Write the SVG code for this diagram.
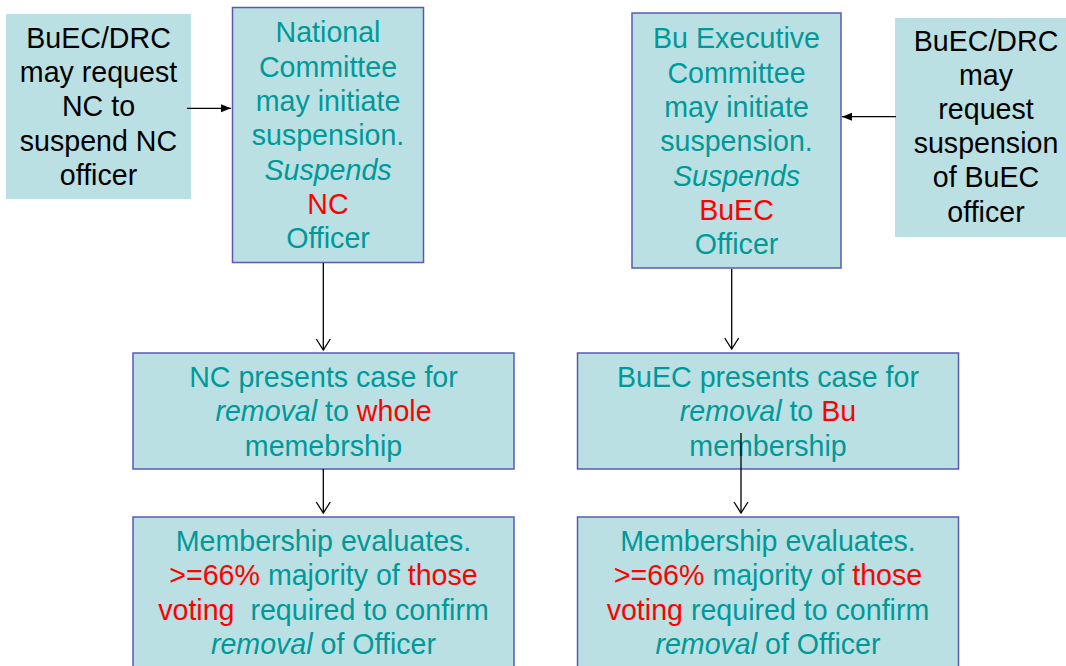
<svg xmlns="http://www.w3.org/2000/svg" width="1066" height="666" viewBox="0 0 1066 666">
<style>
.box{fill:#BBE0E3}
.bd{stroke:#5a5ab4;stroke-width:1.5}
text{font-family:"Liberation Sans",Arial,sans-serif;font-size:28.6px;text-anchor:middle}
.t{fill:#009999}
.k{fill:#000000}
.r{fill:#FF0000}
.i{font-style:italic}
.c{stroke:#000;stroke-width:1.3;fill:none}
</style>
<defs>
<marker id="fa" markerUnits="userSpaceOnUse" markerWidth="11" markerHeight="9" refX="10" refY="4" orient="auto">
<path d="M0,0 L10,4 L0,8 z" fill="#000"/>
</marker>
<marker id="va" markerUnits="userSpaceOnUse" markerWidth="14" markerHeight="16" refX="11.5" refY="7.5" orient="auto" overflow="visible">
<path d="M0.5,0.5 L11.5,7.5 L0.5,14.5" fill="none" stroke="#000" stroke-width="1.3"/>
</marker>
</defs>
<rect width="1066" height="666" fill="#fff"/>
<g id="nc-request">
<rect class="box" x="6" y="14" width="185" height="185"/>
<text class="k" x="98.5"><tspan x="98.5" y="48">BuEC/DRC</tspan><tspan x="98.5" y="82.2">may request</tspan><tspan x="98.5" y="116.4">NC to</tspan><tspan x="98.5" y="150.6">suspend NC</tspan><tspan x="98.5" y="184.8">officer</tspan></text>
</g>
<g id="national-committee">
<rect class="box bd" x="232.5" y="7.5" width="191" height="255"/>
<text class="t"><tspan x="328" y="42.3">National</tspan><tspan x="328" y="76.6">Committee</tspan><tspan x="328" y="110.9">may initiate</tspan><tspan x="328" y="145.2">suspension.</tspan><tspan x="328" y="179.5" class="i">Suspends</tspan><tspan x="328" y="213.8" class="r">NC</tspan><tspan x="328" y="248.1">Officer</tspan></text>
</g>
<g id="bu-executive">
<rect class="box bd" x="632" y="13" width="209" height="255"/>
<text class="t"><tspan x="736.5" y="48.3">Bu Executive</tspan><tspan x="736.5" y="82.6">Committee</tspan><tspan x="736.5" y="116.9">may initiate</tspan><tspan x="736.5" y="151.2">suspension.</tspan><tspan x="736.5" y="185.5" class="i">Suspends</tspan><tspan x="736.5" y="219.8" class="r">BuEC</tspan><tspan x="736.5" y="254.1">Officer</tspan></text>
</g>
<g id="bu-request">
<rect class="box" x="895" y="18" width="183" height="219"/>
<text class="k"><tspan x="986" y="50.5">BuEC/DRC</tspan><tspan x="986" y="84.7">may</tspan><tspan x="986" y="118.9">request</tspan><tspan x="986" y="153.1">suspension</tspan><tspan x="986" y="187.3">of BuEC</tspan><tspan x="986" y="221.5">officer</tspan></text>
</g>
<g id="nc-presents">
<rect class="box bd" x="133" y="353" width="381" height="116"/>
<text class="t"><tspan x="323.5" y="387">NC presents case for</tspan><tspan x="323.5" y="421.3"><tspan class="i">removal</tspan> to <tspan class="r">whole</tspan></tspan><tspan x="323.5" y="455.6">memebrship</tspan></text>
</g>
<g id="buec-presents">
<rect class="box bd" x="577.5" y="353" width="381" height="116"/>
<text class="t"><tspan x="768" y="387">BuEC presents case for</tspan><tspan x="768" y="421.3"><tspan class="i">removal</tspan> to <tspan class="r">Bu</tspan></tspan><tspan x="768" y="455.6">membership</tspan></text>
</g>
<g id="nc-evaluates">
<rect class="box bd" x="133" y="517" width="381" height="160"/>
<text class="t"><tspan x="323.5" y="551">Membership evaluates.</tspan><tspan x="323.5" y="585.3"><tspan class="r">&gt;=66%</tspan> majority of <tspan class="r">those</tspan></tspan></text>
<text class="t" x="323.5" y="619.6" style="white-space:pre"><tspan class="r">voting</tspan>  required to confirm</text>
<text class="t" x="323.5" y="653.9"><tspan class="i">removal</tspan> of Officer</text>
</g>
<g id="bu-evaluates">
<rect class="box bd" x="577.5" y="517" width="381" height="160"/>
<text class="t"><tspan x="768" y="551">Membership evaluates.</tspan><tspan x="768" y="585.3"><tspan class="r">&gt;=66%</tspan> majority of <tspan class="r">those</tspan></tspan><tspan x="768" y="619.6"><tspan class="r">voting</tspan> required to confirm</tspan><tspan x="768" y="653.9"><tspan class="i">removal</tspan> of Officer</tspan></text>
</g>
<g id="connectors">
<line class="c" x1="187" y1="108.3" x2="231" y2="108.3" marker-end="url(#fa)"/>
<line class="c" x1="896" y1="116.7" x2="842" y2="116.7" marker-end="url(#fa)"/>
<line class="c" x1="323.3" y1="263" x2="323.3" y2="350" marker-end="url(#va)"/>
<line class="c" x1="731.7" y1="269" x2="731.7" y2="349" marker-end="url(#va)"/>
<line class="c" x1="323.3" y1="469" x2="323.3" y2="513" marker-end="url(#va)"/>
<line class="c" x1="741" y1="433" x2="741" y2="513" marker-end="url(#va)"/>
</g>
</svg>
